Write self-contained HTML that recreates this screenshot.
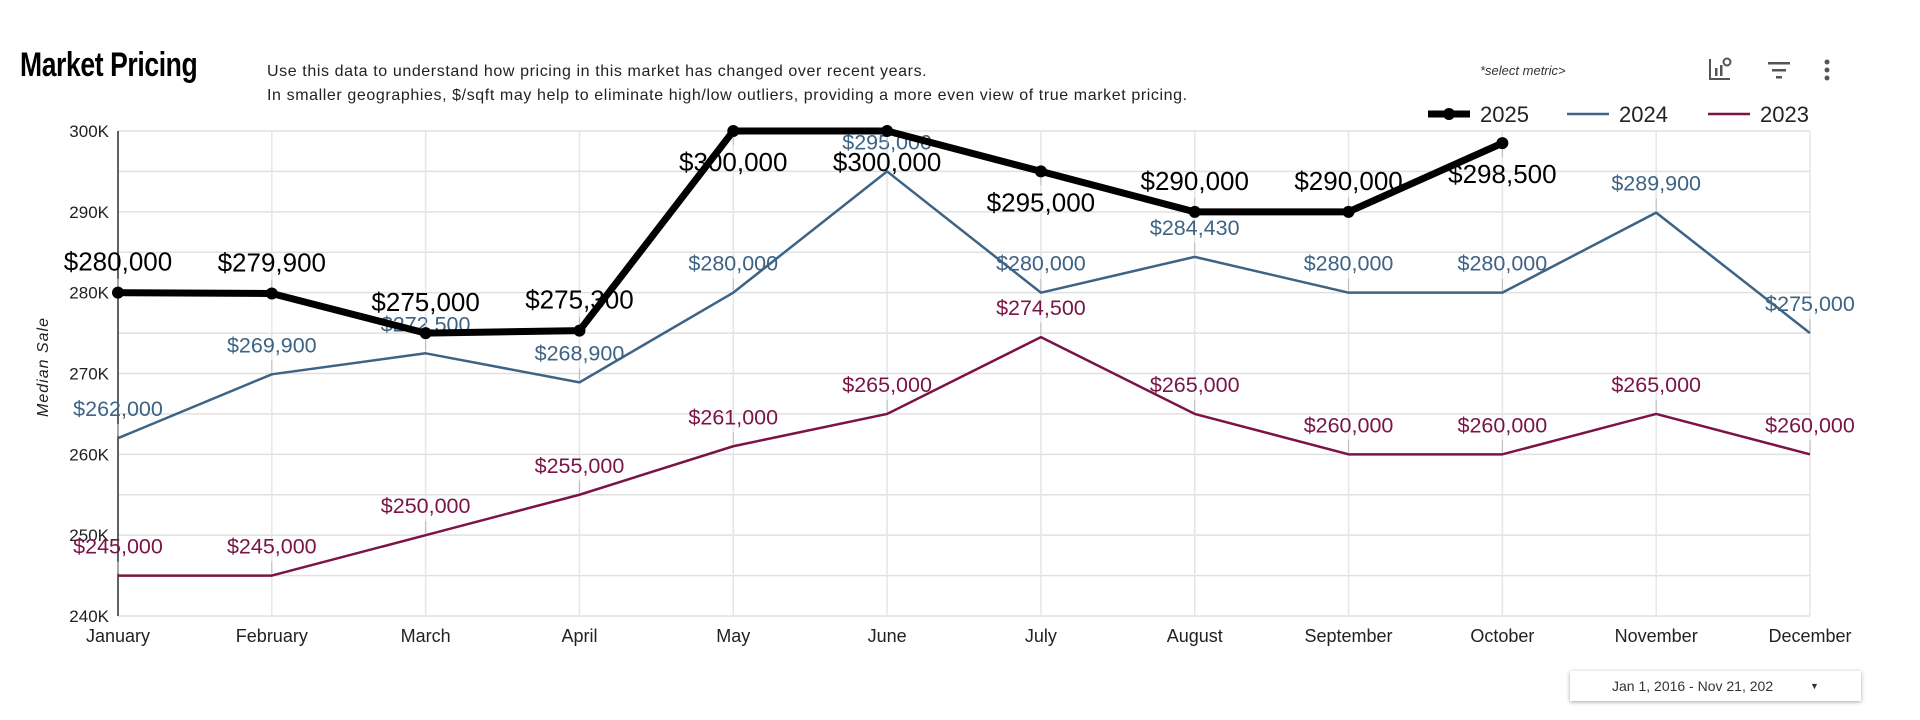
<!DOCTYPE html>
<html><head><meta charset="utf-8"><style>
body{margin:0;background:#fff;width:1920px;height:720px;overflow:hidden;font-family:"Liberation Sans",sans-serif;position:relative}
.t{position:absolute;white-space:nowrap}
</style></head><body>
<div class="t" style="left:20px;top:46px;font-size:34px;font-weight:bold;transform:scaleX(0.78);transform-origin:left;letter-spacing:-0.5px">Market Pricing</div>
<div class="t" style="left:267px;top:63px;font-size:16px;letter-spacing:0.6px;color:#222">Use this data to understand how pricing in this market has changed over recent years.</div>
<div class="t" style="left:267px;top:87px;font-size:16px;letter-spacing:0.6px;color:#222">In smaller geographies, $/sqft may help to eliminate high/low outliers, providing a more even view of true market pricing.</div>
<div class="t" style="left:1480px;top:63px;font-size:13px;font-style:italic;color:#333">*select metric&gt;</div>
<svg style="position:absolute;left:1707px;top:55px" width="26" height="28"><path d="M3 4v20h20" stroke="#555" stroke-width="2" fill="none"/><rect x="8" y="13" width="2.5" height="8" fill="#555"/><rect x="13" y="10" width="2.5" height="11" fill="#555"/><circle cx="20" cy="7" r="3.5" fill="none" stroke="#555" stroke-width="2"/></svg>
<svg style="position:absolute;left:1767px;top:60px" width="24" height="20"><rect x="1" y="2" width="22" height="2.5" fill="#555"/><rect x="5" y="9" width="14" height="2.5" fill="#555"/><rect x="9" y="16" width="6" height="2.5" fill="#555"/></svg>
<svg style="position:absolute;left:1822px;top:58px" width="10" height="26"><circle cx="5" cy="4" r="2.5" fill="#555"/><circle cx="5" cy="12" r="2.5" fill="#555"/><circle cx="5" cy="20" r="2.5" fill="#555"/></svg>
<div style="position:absolute;left:1570px;top:671px;width:291px;height:30px;box-shadow:0 1px 4px rgba(0,0,0,.35);background:#fff;font-size:14px;line-height:30px;color:#333"><span style="position:absolute;left:42px">Jan 1, 2016 - Nov 21, 202</span><span style="position:absolute;left:240px;font-size:9px">▼</span></div>
<svg id="chart" style="position:absolute;left:0;top:0" width="1920" height="720"></svg>
<script>
const months=["January","February","March","April","May","June","July","August","September","October","November","December"];
const s2025=[280000,279900,275000,275300,300000,300000,295000,290000,290000,298500];
const s2024=[262000,269900,272500,268900,280000,295000,280000,284430,280000,280000,289900,275000];
const s2023=[245000,245000,250000,255000,261000,265000,274500,265000,260000,260000,265000,260000];
const side2025=[1,1,1,1,-1,-1,-1,1,1,-1];
const yTicks=[240000,250000,260000,270000,280000,290000,300000];
const yTickLabels=["240K","250K","260K","270K","280K","290K","300K"];
const gridVals=[245000,255000,265000,275000,285000,295000];
const X0=118,X1=1810,Y0=616,Y1=131,YMIN=240000,YMAX=300000;
const xs=i=>X0+(X1-X0)*i/(months.length-1);
const ys=v=>Y0-(v-YMIN)/(YMAX-YMIN)*(Y0-Y1);
const svg=document.getElementById('chart');const NS='http://www.w3.org/2000/svg';
function mk(tag,attrs,parent){const e=document.createElementNS(NS,tag);for(const k in attrs)e.setAttribute(k,attrs[k]);(parent||svg).appendChild(e);return e;}
const fmt=v=>'$'+v.toLocaleString('en-US');
yTicks.concat(gridVals).forEach(v=>{const l=mk('line',{x1:X0,x2:X1,y1:ys(v),y2:ys(v),stroke:'#e0e0e0','stroke-width':1.5});

});
months.forEach((m,i)=>{const l=mk('line',{x1:xs(i),x2:xs(i),y1:Y1,y2:Y0,stroke:'#e6e6e6','stroke-width':1.5});


const t=mk('text',{x:xs(i),y:Y0+26,'text-anchor':'middle','font-size':18,fill:'#222'});t.textContent=m;

});
const ax=mk('line',{x1:X0,x2:X0,y1:Y1,y2:Y0,stroke:'#333','stroke-width':1.5});


yTicks.forEach((v,i)=>{const t=mk('text',{x:X0-9,y:ys(v)+6,'text-anchor':'end','font-size':17,fill:'#222'});t.textContent=yTickLabels[i];

});
const yt=mk('text',{x:48,y:367,'text-anchor':'middle','font-size':16,'font-style':'italic',fill:'#222',transform:'rotate(-90 48 367)','letter-spacing':'1'});yt.textContent='Median Sale';


function series(data,color,w,name,fs,sides,dots){
 const pts=data.map((v,i)=>xs(i)+','+ys(v)).join(' ');
 const p=mk('polyline',{points:pts,fill:'none',stroke:color,'stroke-width':w,'stroke-linejoin':'round'});
 
 
 data.forEach((v,i)=>{const x=xs(i),y=ys(v);const s=sides?sides[i]:1;
  const tk=mk('line',{x1:x,x2:x,y1:y-(s>0?2:-2),y2:y-(s>0?14:-14),stroke:'#bbb','stroke-width':1});
  
  
  if(dots){const c=mk('circle',{cx:x,cy:y,r:6,fill:color});
   
   }
  const t=mk('text',{x:x,y:s>0?y-22:y+40,'text-anchor':'middle','font-size':fs,fill:color});t.textContent=fmt(v);
  
  });
}
series(s2023,'#7a1446',2.5,'series-2023',21.5,null,false);
series(s2024,'#3d6385',2.5,'series-2024',21.5,null,false);
series(s2025,'#000',7,'series-2025',26,side2025,true);
const lg=[['2025','#000',7,1428],['2024','#3d6385',2.5,1567],['2023','#7a1446',2.5,1708]];
lg.forEach(([n,c,w,x])=>{const g=mk('g',{});
 
 
 mk('line',{x1:x,x2:x+42,y1:114,y2:114,stroke:c,'stroke-width':w},g);
 if(n==='2025')mk('circle',{cx:x+21,cy:114,r:6,fill:c},g);
 const t=mk('text',{x:x+52,y:122,'font-size':22,fill:'#222'},g);t.textContent=n;});
</script>
</body></html>
